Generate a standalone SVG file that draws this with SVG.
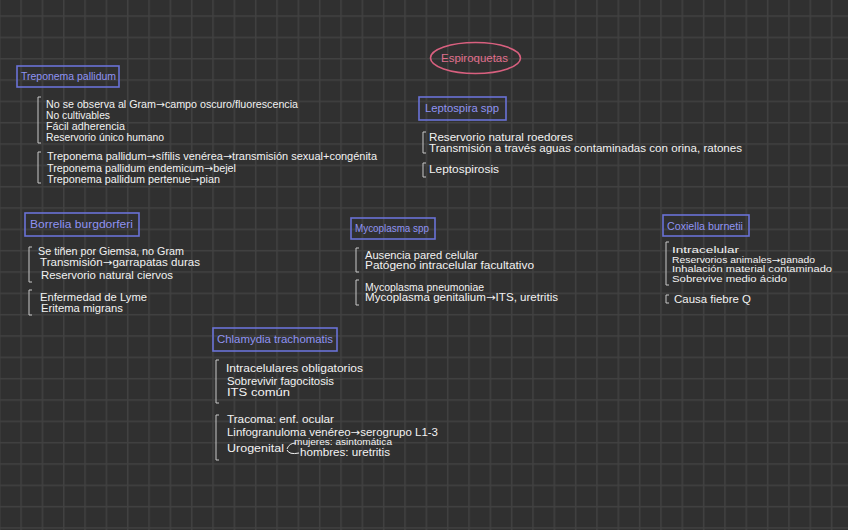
<svg xmlns="http://www.w3.org/2000/svg" width="848" height="530" viewBox="0 0 848 530">
<defs>
<pattern id="grid" patternUnits="userSpaceOnUse" x="20.3" y="15.3" width="21.33" height="21.33">
<rect x="0" y="0" width="21.33" height="1.5" fill="#414141"/>
<rect x="0" y="0" width="1.5" height="21.33" fill="#414141"/>
</pattern>
<style>
.t{font-family:"Liberation Sans",Arial,sans-serif;font-size:10px;fill:#f2f2f2}
.s{font-size:8.5px}
.c{font-size:9px}
.a{font-family:"DejaVu Sans",sans-serif}
.h{font-family:"Liberation Sans",Arial,sans-serif;font-size:10px;fill:#8f93f2}
.box{fill:none;stroke:#6a72d6;stroke-width:1.6}
.br{fill:none;stroke:#c8c8c8;stroke-width:1}
</style>
</defs>
<rect width="848" height="530" fill="#303030"/>
<rect width="848" height="530" fill="url(#grid)"/>

<g id="espiroquetas">
<ellipse cx="475.5" cy="58" rx="45" ry="15.5" fill="none" stroke="#d9607f" stroke-width="1.6"/>
<text x="441" y="61.5" style="font-family:'Liberation Sans',Arial,sans-serif;font-size:10.5px;fill:#e0708e" textLength="67" lengthAdjust="spacingAndGlyphs">Espiroquetas</text>
</g>

<g id="treponema">
<rect class="box" x="17" y="66" width="102" height="21"/>
<text class="h" x="21" y="80" textLength="95" lengthAdjust="spacingAndGlyphs">Treponema pallidum</text>
<path class="br" d="M41,97 H38 V143 H41"/>
<text class="t" x="46" y="108" textLength="252" lengthAdjust="spacingAndGlyphs">No se observa al Gram<tspan class="a">→</tspan>campo oscuro/fluorescencia</text>
<text class="t" x="46" y="119" textLength="64" lengthAdjust="spacingAndGlyphs">No cultivables</text>
<text class="t" x="46" y="130" textLength="79" lengthAdjust="spacingAndGlyphs">Fácil adherencia</text>
<text class="t" x="46" y="141" textLength="118" lengthAdjust="spacingAndGlyphs">Reservorio único humano</text>
<path class="br" d="M41,152 H38 V183 H41"/>
<text class="t" x="47" y="160" textLength="330" lengthAdjust="spacingAndGlyphs">Treponema pallidum<tspan class="a">→</tspan>sífilis venérea<tspan class="a">→</tspan>transmisión sexual+congénita</text>
<text class="t" x="47" y="171.5" textLength="189" lengthAdjust="spacingAndGlyphs">Treponema pallidum endemicum<tspan class="a">→</tspan>bejel</text>
<text class="t" x="47" y="183" textLength="173" lengthAdjust="spacingAndGlyphs">Treponema pallidum pertenue<tspan class="a">→</tspan>pian</text>
</g>

<g id="leptospira">
<rect class="box" x="419" y="97" width="87" height="23"/>
<text class="h" x="425" y="112" textLength="74" lengthAdjust="spacingAndGlyphs">Leptospira spp</text>
<path class="br" d="M426,132 H423 V153 H426"/>
<text class="t" x="429" y="141" textLength="144" lengthAdjust="spacingAndGlyphs">Reservorio natural roedores</text>
<text class="t" x="429" y="151.5" textLength="313" lengthAdjust="spacingAndGlyphs">Transmisión a través aguas contaminadas con orina, ratones</text>
<path class="br" d="M426,163 H423 V177 H426"/>
<text class="t" x="429" y="172.5" textLength="70" lengthAdjust="spacingAndGlyphs">Leptospirosis</text>
</g>

<g id="borrelia">
<rect class="box" x="25" y="213" width="114" height="23"/>
<text class="h" x="30" y="228" textLength="103" lengthAdjust="spacingAndGlyphs">Borrelia burgdorferi</text>
<path class="br" d="M32,247 H29 V282 H32"/>
<text class="t" x="38" y="255" textLength="146" lengthAdjust="spacingAndGlyphs">Se tiñen por Giemsa, no Gram</text>
<text class="t" x="40" y="266" textLength="160" lengthAdjust="spacingAndGlyphs">Transmisión<tspan class="a">→</tspan>garrapatas duras</text>
<text class="t" x="41" y="279" textLength="132" lengthAdjust="spacingAndGlyphs">Reservorio natural ciervos</text>
<path class="br" d="M32,290 H29 V315 H32"/>
<text class="t" x="40" y="300.5" textLength="107" lengthAdjust="spacingAndGlyphs">Enfermedad de Lyme</text>
<text class="t" x="41" y="311.5" textLength="82" lengthAdjust="spacingAndGlyphs">Eritema migrans</text>
</g>

<g id="mycoplasma">
<rect class="box" x="351" y="218" width="84" height="21"/>
<text class="h" x="355" y="232" textLength="74" lengthAdjust="spacingAndGlyphs">Mycoplasma spp</text>
<path class="br" d="M359,248 H356 V272 H359"/>
<text class="t" x="365" y="258.5" textLength="113" lengthAdjust="spacingAndGlyphs">Ausencia pared celular</text>
<text class="t" x="365" y="268.5" textLength="169" lengthAdjust="spacingAndGlyphs">Patógeno intracelular facultativo</text>
<path class="br" d="M359,280 H356 V305 H359"/>
<text class="t" x="365" y="290.5" textLength="119" lengthAdjust="spacingAndGlyphs">Mycoplasma pneumoniae</text>
<text class="t" x="365" y="300.5" textLength="193" lengthAdjust="spacingAndGlyphs">Mycoplasma genitalium<tspan class="a">→</tspan>ITS, uretritis</text>
</g>

<g id="coxiella">
<rect class="box" x="663" y="215" width="86" height="21"/>
<text class="h" x="667" y="229.5" textLength="76" lengthAdjust="spacingAndGlyphs">Coxiella burnetii</text>
<path class="br" d="M669,242 H666 V285 H669"/>
<text class="t c" x="672" y="253" textLength="67" lengthAdjust="spacingAndGlyphs">Intracelular</text>
<text class="t c" x="672" y="262.5" textLength="143" lengthAdjust="spacingAndGlyphs">Reservorios animales<tspan class="a">→</tspan>ganado</text>
<text class="t c" x="672" y="272" textLength="160" lengthAdjust="spacingAndGlyphs">Inhalación material contaminado</text>
<text class="t c" x="672" y="282" textLength="115" lengthAdjust="spacingAndGlyphs">Sobrevive medio ácido</text>
<path class="br" d="M669,295 H666 V303 H669"/>
<text class="t" x="674" y="302.5" textLength="77" lengthAdjust="spacingAndGlyphs">Causa fiebre Q</text>
</g>

<g id="chlamydia">
<rect class="box" x="213" y="328" width="124" height="23"/>
<text class="h" x="217" y="343" textLength="116" lengthAdjust="spacingAndGlyphs">Chlamydia trachomatis</text>
<path class="br" d="M219,360 H216 V403 H219"/>
<text class="t" x="226" y="371.5" textLength="137" lengthAdjust="spacingAndGlyphs">Intracelulares obligatorios</text>
<text class="t" x="227" y="384.5" textLength="107" lengthAdjust="spacingAndGlyphs">Sobrevivir fagocitosis</text>
<text class="t" x="227" y="395.5" textLength="63" lengthAdjust="spacingAndGlyphs">ITS común</text>
<path class="br" d="M219,415 H216 V460 H219"/>
<text class="t" x="227" y="422.5" textLength="107" lengthAdjust="spacingAndGlyphs">Tracoma: enf. ocular</text>
<text class="t" x="227" y="435.5" textLength="211" lengthAdjust="spacingAndGlyphs">Linfogranuloma venéreo<tspan class="a">→</tspan>serogrupo L1-3</text>
<text class="t" x="227" y="451.5" textLength="57" lengthAdjust="spacingAndGlyphs">Urogenital</text>
<path fill="none" stroke="#f2f2f2" stroke-width="1" d="M287,449 Q289,443 296,443 M287,450 Q289,455 299,453"/>
<text class="t s" x="294" y="444.5" textLength="98" lengthAdjust="spacingAndGlyphs">mujeres: asintomática</text>
<text class="t" x="300" y="456" textLength="90" lengthAdjust="spacingAndGlyphs">hombres: uretritis</text>
</g>

<g id="connectors"></g>
</svg>
